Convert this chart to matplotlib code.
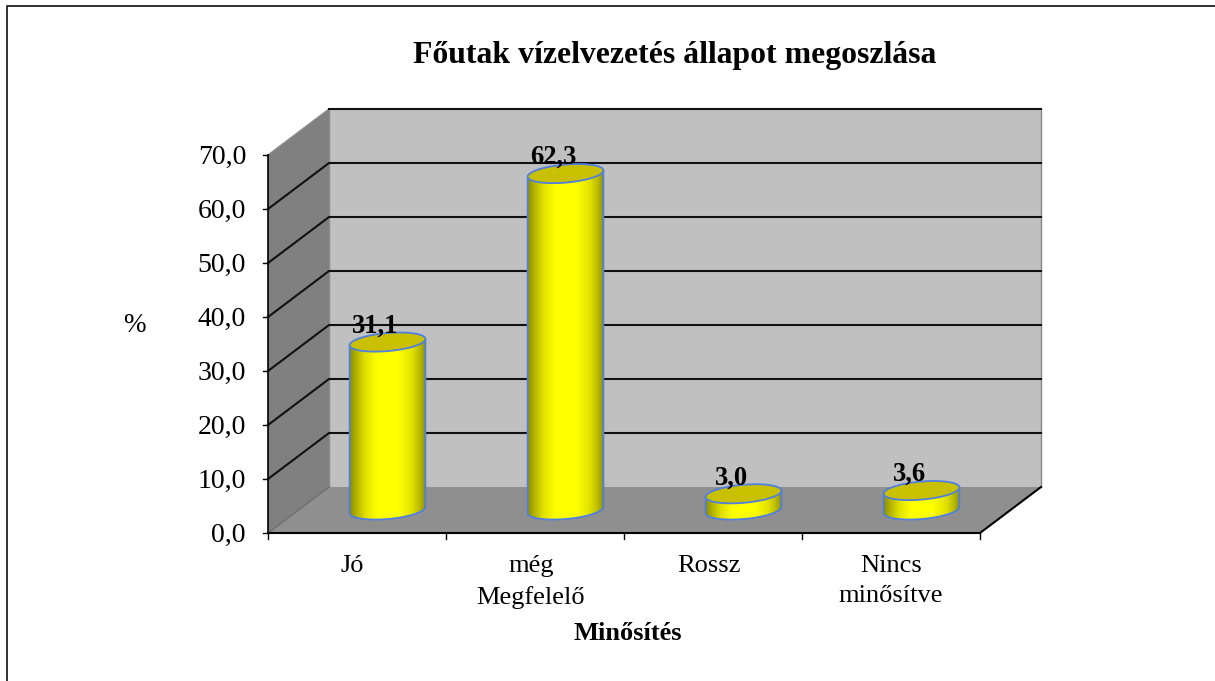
import numpy as np
import matplotlib
matplotlib.use('Agg')
import matplotlib.pyplot as plt
from matplotlib.colors import LinearSegmentedColormap
from matplotlib.patches import Polygon, PathPatch
from matplotlib.path import Path

title = 'Főutak vízelvezetés állapot megoszlása'
categories = ['Jó', 'még\nMegfelelő', 'Rossz', 'Nincs\nminősítve']
values = [31.1, 62.3, 3.0, 3.6]
value_labels = ['31,1', '62,3', '3,0', '3,6']
y_ticks = [0, 10, 20, 30, 40, 50, 60, 70]
y_tick_labels = ['0,0', '10,0', '20,0', '30,0', '40,0', '50,0', '60,0', '70,0']

plt.rcParams['font.family'] = ['Liberation Serif', 'DejaVu Serif']

# plot box in image pixels, the depth offset is what makes it look 3D
X0, X1 = 268, 980
Y0, Y70 = 533, 155
DX, DY = 61, -46
PX_PER_UNIT = (Y0 - Y70) / 70
CAT_W = (X1 - X0) / len(categories)


def val_y(v):
    return Y0 - v * PX_PER_UNIT


fig = plt.figure(figsize=(12.15, 6.81), dpi=100, facecolor='white')
ax = fig.add_axes([0, 0, 1, 1])
ax.set_xlim(0, 1215)
ax.set_ylim(681, 0)
ax.axis('off')

# outer chart border
ax.plot([7, 7, 1215], [681, 5.5, 5.5], color='#202020', lw=1.3, zorder=1)

# walls and floor
top = val_y(70)
ax.add_patch(Polygon([(X0 + DX, top + DY), (X1 + DX, top + DY), (X1 + DX, Y0 + DY), (X0 + DX, Y0 + DY)],
                     fc='#c0c0c0', ec='none', zorder=2))
ax.add_patch(Polygon([(X0, top), (X0 + DX, top + DY), (X0 + DX, Y0 + DY), (X0, Y0)],
                     fc='#808080', ec='none', zorder=2))
ax.add_patch(Polygon([(X0, Y0), (X0 + DX, Y0 + DY), (X1 + DX, Y0 + DY), (X1, Y0)],
                     fc='#8f8f8f', ec='none', zorder=2))
ax.plot([X1 + DX, X1 + DX], [top + DY, Y0 + DY], color='#8a8a8a', lw=1, zorder=3)
ax.plot([X0 + DX, X0 + DX], [top + DY, Y0 + DY], color='#8a8a8a', lw=1, zorder=3)
ax.plot([X0, X0 + DX], [Y0, Y0 + DY], color='#6e6e6e', lw=1, zorder=3)

# gridlines run along the side wall and the back wall, the top one has no dark side part
for v in y_ticks[1:]:
    y = val_y(v)
    if v == y_ticks[-1]:
        ax.plot([X0, X0 + DX], [y, y + DY], color='#8a8a8a', lw=1, zorder=3)
        ax.plot([X0 + DX, X1 + DX], [y + DY, y + DY], color='#111111', lw=1.5, zorder=3)
    else:
        ax.plot([X0, X0 + DX, X1 + DX], [y, y + DY, y + DY], color='#111111', lw=1.5, zorder=3,
                solid_joinstyle='miter')

# axes lines and ticks
ax.plot([X0, X0], [Y0, top], color='black', lw=1.2, zorder=4)
ax.plot([X0, X1, X1 + DX], [Y0, Y0, Y0 + DY], color='black', lw=1.5, zorder=4)
for v, lab in zip(y_ticks, y_tick_labels):
    ax.plot([X0 - 5, X0], [val_y(v), val_y(v)], color='black', lw=1, zorder=4)
    ax.text(X0 - 22, val_y(v) + 2, lab, ha='right', va='center', fontsize=20, color='black')
for i in range(len(categories) + 1):
    x = X0 + i * CAT_W
    ax.plot([x, x], [Y0, Y0 + 6], color='black', lw=1, zorder=4)

# cylinders
bar_cmap = LinearSegmentedColormap.from_list(
    'cyl', [(0, '#8f8f00'), (0.1, '#baba00'), (0.2, '#e0e000'), (0.36, '#ffff00'), (0.64, '#ffff00'),
            (0.82, '#e0e000'), (0.92, '#baba00'), (1, '#8e8e00')])
gradient = np.linspace(0, 1, 256).reshape(1, -1)
A, B = 38, 9
PHI = np.deg2rad(-5)


def ellipse_pts(cx, cy, t):
    x = cx + A * np.cos(t) * np.cos(PHI) - B * np.sin(t) * np.sin(PHI)
    y = cy + A * np.cos(t) * np.sin(PHI) + B * np.sin(t) * np.cos(PHI)
    return np.column_stack([x, y])


t_right = np.arctan2(-B * np.sin(PHI), A * np.cos(PHI))
t_low = np.linspace(t_right, t_right + np.pi, 80)
t_full = np.linspace(0, 2 * np.pi, 160)
base_y = Y0 + DY / 2

for i, v in enumerate(values):
    cx = X0 + (i + 0.5) * CAT_W + DX / 2
    cy_top = base_y - v * PX_PER_UNIT
    low = ellipse_pts(cx, base_y, t_low)
    high = ellipse_pts(cx, cy_top, np.array([t_right + np.pi, t_right]))
    body = np.vstack([low, high, low[:1]])
    path = Path(body)
    im = ax.imshow(gradient, extent=[cx - A, cx + A, base_y + 12, cy_top - 12], cmap=bar_cmap,
                   aspect='auto', zorder=5, interpolation='bilinear')
    im.set_clip_path(PathPatch(path, transform=ax.transData))
    ax.add_patch(PathPatch(path, fc='none', ec='#4f7fe0', lw=1.3, zorder=6))
    ax.add_patch(Polygon(ellipse_pts(cx, cy_top, t_full), closed=True, fc='#c8c000', ec='#4f7fe0', lw=1.3, zorder=7))
    ax.text(cx - 12, cy_top - 16, value_labels[i], ha='center', va='center', fontsize=19.2,
            fontweight='bold', color='black', zorder=8)

ax.set_xlim(0, 1215)
ax.set_ylim(681, 0)

# text around the plot
ax.text(675, 55, title, ha='center', va='center', fontsize=22.9, fontweight='bold')
ax.text(134, 326, '%', ha='center', va='center', fontsize=19.5)
ax.text(628, 633, 'Minősítés', ha='center', va='center', fontsize=19, fontweight='bold')
cat_x = [352, 531, 709, 891]
for x, lab in zip(cat_x, categories):
    ax.text(x, 555, lab, ha='center', va='top', fontsize=19, linespacing=1.48)

fig.savefig('out.png', dpi=100)
